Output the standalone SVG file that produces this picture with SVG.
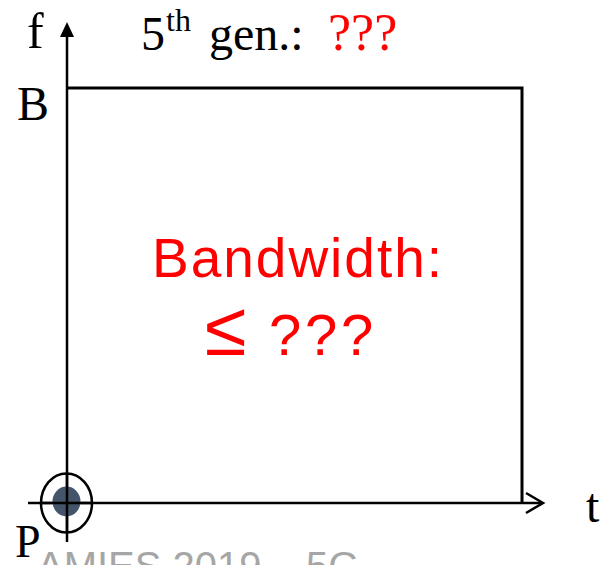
<svg xmlns="http://www.w3.org/2000/svg" width="607" height="565" viewBox="0 0 607 565">
<style>
.serif{font-family:"Liberation Serif","Times New Roman",serif;fill:#000}
.red{fill:#ff0000}
.ax{stroke:#000;stroke-width:2.5;fill:none}
.sans{font-family:"Liberation Sans",Arial,sans-serif;fill:#ff0000}
</style>
<rect width="607" height="565" fill="#fff"/>
<g id="footer"><text x="37" y="580" font-family="Liberation Sans, Arial, sans-serif" font-size="40" fill="#a6a6a6">AMIES 2019 – 5G</text></g>
<g id="connectors">
<line class="ax" x1="67" y1="36" x2="67" y2="542"/>
<polygon points="60,37 74,37 67,22" fill="#000"/>
<line class="ax" x1="28" y1="503" x2="542" y2="503"/>
<polyline class="ax" points="526,493 543,503 526,513"/>
</g>
<g id="bandwidth-box">
<polyline points="67,88 522,88 522,503" stroke="#000" stroke-width="3" fill="none"/>
</g>
<g id="origin-point">
<ellipse cx="66.5" cy="503" rx="25.5" ry="29.5" fill="none" stroke="#000" stroke-width="2.5"/>
<ellipse cx="66.5" cy="501.5" rx="14" ry="15" fill="#44546a"/>
<line class="ax" x1="42" y1="503" x2="91" y2="503"/>
<line class="ax" x1="67" y1="473" x2="67" y2="533"/>
</g>
<g id="labels">
<text class="serif" x="27" y="48" font-size="50">f</text>
<text class="serif" x="17" y="120" font-size="48">B</text>
<text class="serif" x="15" y="557" font-size="46">P</text>
<text class="serif" x="586" y="522" font-size="48">t</text>
<text class="serif" x="141" y="50" font-size="48">5<tspan font-size="32" dy="-19" x="166">th</tspan><tspan dy="19" x="209">gen.:</tspan><tspan class="red" x="328" font-size="52">???</tspan></text>
</g>
<g id="bandwidth-label">
<text class="sans" x="152" y="277" font-size="55" textLength="290">Bandwidth:</text>
<text class="sans" x="205" y="355" font-size="58"><tspan font-size="76">≤</tspan><tspan x="269">?</tspan><tspan x="305">?</tspan><tspan x="341">?</tspan></text>
</g>
</svg>
